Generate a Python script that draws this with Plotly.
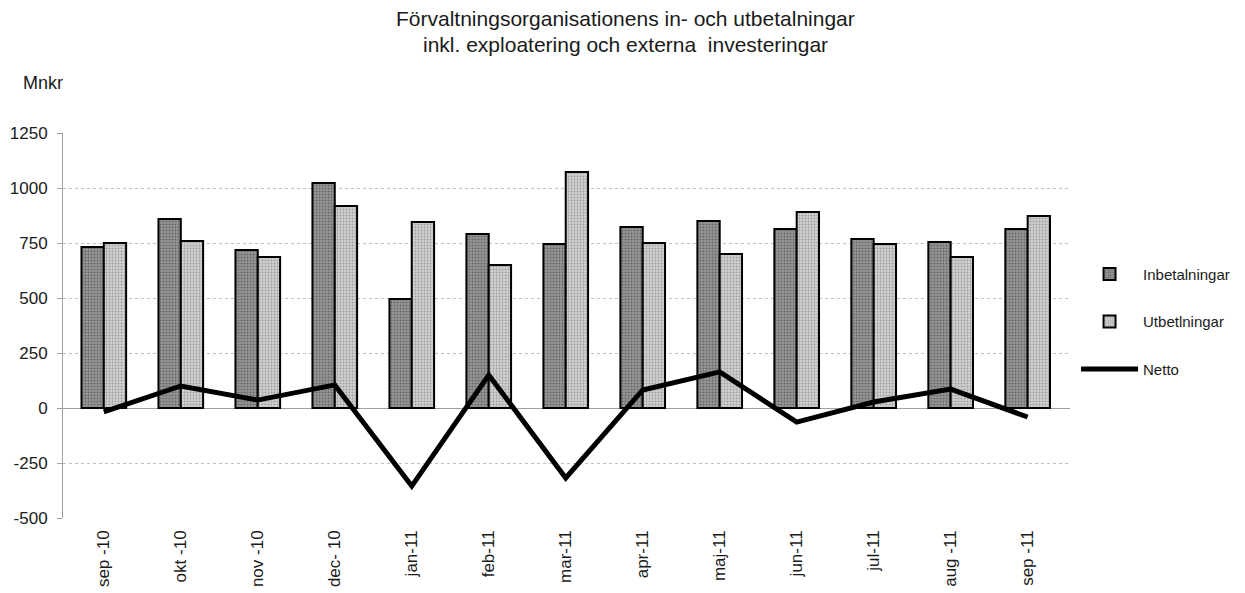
import plotly.graph_objects as go

months = ["sep -10", "okt -10", "nov -10", "dec- 10", "jan-11", "feb-11", "mar-11",
          "apr-11", "maj-11", "jun-11", "jul-11", "aug -11", "sep -11"]
inbetalningar = [732, 859, 718, 1023, 495, 791, 745, 823, 850, 814, 768, 755, 814]
utbetalningar = [750, 759, 686, 918, 845, 650, 1073, 750, 700, 891, 745, 686, 873]
netto = [-18, 100, 36, 105, -355, 150, -318, 82, 164, -64, 27, 86, -41]
y_ticks = [-500, -250, 0, 250, 500, 750, 1000, 1250]
y_ticktext = ["-500", "-250", "0", "250", "500", "750", "1000", "1250"]

FONT = "Liberation Sans, Arial, sans-serif"

# page has an 8px body margin; figure is sized so the plot area lands where the reference has it
W, H = 1237, 585
L, R, T, B = 55, 175, 125, 75
PW, PH = W - L - R, H - T - B


def px(xp):
    return (xp - 8 - L) / PW


def py(yp):
    return 1 + (T - (yp - 8)) / PH


fig = go.Figure()
fig.add_trace(go.Bar(
    x=months, y=inbetalningar, name="Inbetalningar", legendgroup="a",
    marker=dict(color="#8a8a8a", line=dict(color="black", width=2),
                pattern=dict(shape=".", fgcolor="#3a3a3a", bgcolor="#969696",
                             size=3, solidity=0.35, fillmode="overlay")),
))
fig.add_trace(go.Bar(
    x=months, y=utbetalningar, name="Utbetlningar", legendgroup="b",
    marker=dict(color="#cfcfcf", line=dict(color="black", width=2),
                pattern=dict(shape=".", fgcolor="#6e6e6e", bgcolor="#d0d0d0",
                             size=3, solidity=0.3, fillmode="overlay")),
))
fig.add_trace(go.Scatter(
    x=months, y=netto, name="Netto", legendgroup="c", mode="lines",
    line=dict(color="black", width=5),
))

fig.update_layout(
    width=W, height=H,
    paper_bgcolor="white", plot_bgcolor="white",
    margin=dict(l=L, r=R, t=T, b=B, autoexpand=False),
    barmode="group", bargap=0.42, bargroupgap=0,
    font=dict(family=FONT, size=15, color="#1a1a1a"),
    showlegend=True,
    legend=dict(x=1.006, y=0.676, xanchor="left", yanchor="top",
                font=dict(family=FONT, size=15, color="#1a1a1a"),
                tracegroupgap=25, itemwidth=57, bgcolor="rgba(0,0,0,0)"),
    xaxis=dict(range=[-0.53, 12.55], tickangle=-90, showgrid=False,
               showline=False, ticks="", zeroline=False, automargin=False,
               ticklabelstandoff=8,
               tickfont=dict(family=FONT, size=17, color="#1a1a1a")),
    yaxis=dict(range=[-500, 1250], tickvals=y_ticks, ticktext=y_ticktext,
               showgrid=True, gridcolor="#c0c0c0", griddash="dot", gridwidth=1,
               zeroline=True, zerolinecolor="#a0a0a0", zerolinewidth=1,
               showline=True, linecolor="#a0a0a0", linewidth=1, automargin=False,
               ticks="outside", ticklen=5, tickcolor="#a0a0a0", ticklabelstandoff=6,
               tickfont=dict(family=FONT, size=17, color="#1a1a1a")),
    annotations=[
        dict(text="Förvaltningsorganisationens in- och utbetalningar", xref="paper", yref="paper",
             x=px(625), y=py(18), xanchor="center", yanchor="middle",
             showarrow=False, font=dict(family=FONT, size=21, color="#1a1a1a")),
        dict(text="inkl. exploatering och externa  investeringar", xref="paper", yref="paper",
             x=px(625), y=py(44), xanchor="center", yanchor="middle",
             showarrow=False, font=dict(family=FONT, size=21, color="#1a1a1a")),
        dict(text="Mnkr", xref="paper", yref="paper",
             x=px(21), y=py(83), xanchor="left", yanchor="middle",
             showarrow=False, font=dict(family=FONT, size=18, color="#1a1a1a")),
    ],
)

fig.write_html("out.html")
